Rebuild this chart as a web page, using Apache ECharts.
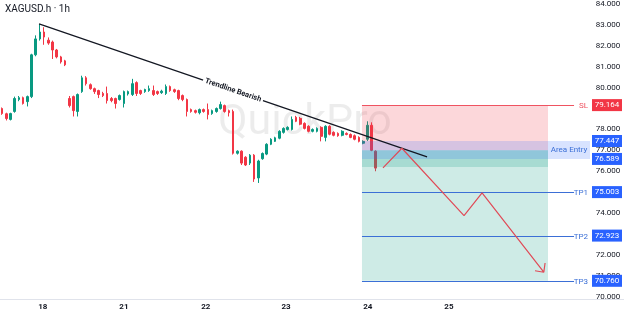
<!DOCTYPE html>
<html>
<head>
<meta charset="utf-8">
<script src="https://cdn.jsdelivr.net/npm/echarts@6/dist/echarts.min.js"></script>
<style>
  html, body { margin: 0; padding: 0; background: #fff; }
  #chart { width: 624px; height: 316px; }
</style>
</head>
<body>
<div id="chart"></div>
<script>
// day labels on the time axis (position = candle index)
const days = ['18', '21', '22', '23', '24', '25'];
const dayPos = [9.7, 29.0, 48.5, 67.6, 87.1, 106.4];

// hourly candles
const opens = [
  79.00, 78.75, 78.48, 78.86, 79.43, 79.52, 79.33, 79.57, 81.57, 82.33,
  82.66, 82.27, 82.18, 81.80, 81.47, 81.28, 79.48, 79.57, 78.86, 79.81,
  80.47, 80.14, 79.95, 79.86, 79.72, 79.72, 79.48, 79.48, 79.43, 79.24,
  79.70, 79.67, 80.24, 79.86, 79.81, 79.86, 79.86, 79.81, 79.76, 79.72,
  80.05, 79.90, 79.86, 79.62, 79.43, 78.95, 78.90, 78.80, 78.95, 78.95,
  78.76, 78.86, 79.00, 79.14, 78.90, 78.86, 76.86, 76.96, 76.67, 76.39,
  76.77, 75.68, 76.60, 76.82, 77.29, 77.43, 77.58, 77.86, 78.00, 78.00,
  78.58, 78.53, 78.29, 78.15, 77.91, 77.91, 78.10, 77.62, 78.15, 77.86,
  77.81, 77.72, 77.81, 77.76, 77.70, 77.62, 77.34, 77.53, 78.20, 76.96
];
const closes = [
  78.76, 78.52, 78.76, 79.48, 79.52, 79.24, 79.57, 81.57, 82.33, 82.66,
  82.42, 82.13, 81.80, 81.47, 81.23, 81.09, 79.14, 78.90, 79.67, 80.47,
  80.19, 79.95, 79.81, 79.67, 79.62, 79.38, 79.38, 79.24, 79.62, 79.81,
  79.81, 80.19, 79.72, 79.72, 79.91, 79.95, 79.67, 79.72, 79.83, 80.05,
  79.86, 79.81, 79.48, 79.43, 78.86, 78.86, 78.82, 78.95, 78.86, 78.71,
  78.90, 79.00, 79.19, 78.86, 78.80, 76.86, 76.96, 76.39, 76.30, 76.77,
  75.63, 76.49, 76.85, 77.29, 77.53, 77.60, 77.91, 78.05, 78.10, 78.48,
  78.39, 78.25, 78.05, 77.91, 78.00, 78.05, 77.67, 78.15, 77.77, 77.72,
  77.70, 77.91, 77.76, 77.62, 77.53, 77.43, 77.43, 78.20, 77.00, 76.15
];
const lows = [
  78.70, 78.43, 78.43, 78.80, 79.35, 79.19, 79.10, 79.50, 81.50, 82.25,
  82.05, 82.05, 81.37, 81.40, 81.15, 81.03, 79.05, 78.62, 78.62, 79.75,
  80.10, 79.90, 79.70, 79.50, 79.55, 79.24, 79.30, 79.00, 79.38, 79.05,
  79.62, 79.60, 79.60, 79.65, 79.75, 79.80, 79.60, 79.65, 79.70, 79.65,
  79.80, 79.75, 79.40, 79.35, 78.62, 78.80, 78.76, 78.72, 78.80, 78.48,
  78.70, 78.80, 78.95, 78.80, 78.62, 76.80, 76.80, 76.30, 76.25, 76.30,
  75.49, 75.44, 76.55, 76.77, 77.25, 77.40, 77.53, 77.80, 77.95, 77.95,
  78.35, 78.20, 78.00, 77.86, 77.86, 77.86, 77.43, 77.43, 77.72, 77.67,
  77.65, 77.67, 77.72, 77.58, 77.48, 77.38, 77.29, 77.45, 76.96, 76.00
];
const highs = [
  79.05, 78.80, 78.80, 79.57, 79.60, 79.57, 79.62, 81.62, 82.50, 83.04,
  82.89, 82.40, 82.25, 81.85, 81.52, 81.33, 79.60, 79.62, 79.72, 80.57,
  80.55, 80.20, 80.00, 79.90, 79.80, 80.05, 79.55, 79.52, 79.67, 79.86,
  79.86, 80.42, 80.30, 79.90, 79.95, 80.10, 80.10, 79.86, 79.90, 80.15,
  80.10, 79.95, 79.90, 79.67, 79.48, 79.00, 78.95, 79.00, 79.00, 79.24,
  78.95, 79.05, 79.33, 79.19, 78.95, 78.95, 77.00, 77.00, 76.72, 76.82,
  76.82, 76.55, 76.90, 77.34, 77.58, 77.65, 77.96, 78.10, 78.15, 78.62,
  78.65, 78.60, 78.34, 78.20, 78.05, 78.10, 78.15, 78.20, 78.20, 77.91,
  77.86, 77.96, 77.86, 77.81, 77.76, 77.67, 77.48, 78.39, 78.34, 77.00
];

// price scale labels
const priceTicks = [70, 71, 72, 74, 76, 77, 78, 80, 81, 82, 83, 84];

// trendline (candle index, price)
const trendX = [8.8, 101.2];
const trendY = [83.05, 76.69];

// projected path with arrow head
const pathX = [90.7, 95.2, 110.0, 114.3, 129.0];
const pathY = [76.16, 77.10, 73.88, 74.97, 71.17];
const arrowX = [129.3, 129.0, 126.9];
const arrowY = [71.61, 71.17, 71.24];

// trade plan levels
const levelNames = ['SL', 'TP1', 'TP2', 'TP3'];
const levelValues = [79.164, 75.003, 72.923, 70.760];
const entryTop = 77.447;
const entryBottom = 76.589;
const entryPrice = 77.0;
const entryFill = 76.2;
const boxStart = 85.7;
const boxEnd = 130.0;
const lineEnd = 136.2;
const plotEnd = 140;

const UP = '#089981', DOWN = '#f23645', BLUE = '#2962ff', TXT = '#131722';
const zoneColors = ['rgba(242,54,69,0.2)', 'rgba(8,153,129,0.2)', 'rgba(41,98,255,0.18)'];
const levelColors = ['#ef5361', '#3b6fd6', '#3b6fd6', '#3b6fd6'];

const candles = opens.map((o, i) => [i, o, closes[i], lows[i], highs[i]]);

const zones = [
  [boxStart, boxEnd, levelValues[0], entryPrice, 0],
  [boxStart, boxEnd, entryPrice, levelValues[3], 1],
  [boxStart, boxEnd, entryPrice, entryFill, 1],
  [boxStart, plotEnd, entryTop, entryBottom, 2]
];

const tags = [
  [plotEnd, levelValues[0], DOWN],
  [plotEnd, entryTop, BLUE],
  [plotEnd, entryBottom, BLUE],
  [plotEnd, levelValues[1], BLUE],
  [plotEnd, levelValues[2], BLUE],
  [plotEnd, levelValues[3], BLUE]
];

const pathData = pathX.map((x, i) => [x, pathY[i]])
  .concat(arrowX.map((x, i) => [x, arrowY[i]]));

const chart = echarts.init(document.getElementById('chart'));

const option = {
  animation: false,
  textStyle: { fontFamily: 'Roboto' },
  grid: { left: 0, right: 34, top: 0, bottom: 17 },
  xAxis: {
    type: 'value',
    min: -0.5,
    max: plotEnd,
    axisLine: { lineStyle: { color: '#e0e3eb' } },
    axisTick: { show: false },
    splitLine: { show: false },
    axisLabel: {
      customValues: dayPos,
      margin: 4,
      fontSize: 8,
      fontWeight: 'bold',
      color: TXT,
      formatter: v => {
        const k = dayPos.findIndex(p => Math.abs(p - v) < 0.01);
        return k >= 0 ? days[k] : '';
      }
    }
  },
  yAxis: {
    type: 'value',
    position: 'right',
    min: 69.89,
    max: 84.08,
    axisLine: { show: false },
    axisTick: { show: false },
    splitLine: { show: false },
    axisLabel: {
      customValues: priceTicks,
      margin: 18,
      align: 'center',
      fontSize: 8,
      color: TXT,
      formatter: v => v.toFixed(3)
    }
  },
  graphic: [
    {
      id: 'title', type: 'text', left: 5, top: 4, z: 10,
      style: { text: 'XAGUSD.h · 1h', font: '10px Roboto', fill: TXT }
    },
    {
      id: 'watermark', type: 'text', left: 218, top: 102, z: 0,
      style: { text: 'QuickPro', font: '43px Roboto', fill: 'rgba(0,0,0,0.075)' }
    },
    {
      // bottom rule under the price scale too
      id: 'scaleRule', type: 'line', z: 0,
      shape: { x1: 590, y1: 299.5, x2: 624, y2: 299.5 },
      style: { stroke: '#e0e3eb', lineWidth: 1 }
    }
  ],
  series: [
    {
      type: 'candlestick',
      z: 2,
      barWidth: 2.2,
      encode: { x: 0, y: [1, 2, 3, 4] },
      data: candles,
      itemStyle: {
        color: UP, color0: DOWN,
        borderColor: UP, borderColor0: DOWN,
        borderWidth: 1
      }
    },
    {
      // position / entry zones
      type: 'custom',
      z: 3,
      encode: { x: [0, 1], y: [2, 3] },
      data: zones,
      renderItem: (params, api) => {
        const p1 = api.coord([api.value(0), api.value(2)]);
        const p2 = api.coord([api.value(1), api.value(3)]);
        const k = api.value(4);
        const children = [{
          type: 'rect',
          shape: { x: p1[0], y: p1[1], width: p2[0] - p1[0], height: p2[1] - p1[1] },
          style: { fill: zoneColors[k] }
        }];
        if (k === 2) {
          children.push({
            type: 'text',
            x: p2[0] - 21, y: (p1[1] + p2[1]) / 2,
            style: { text: 'Area Entry', font: '8px Roboto', fill: '#3b6fd6', align: 'center', verticalAlign: 'middle' }
          });
        }
        return { type: 'group', children };
      }
    },
    {
      // SL / TP lines
      type: 'custom',
      z: 4,
      encode: { x: [0, 1], y: 2 },
      data: levelValues.map((v, i) => [boxStart, lineEnd, v, i]),
      renderItem: (params, api) => {
        const k = api.value(3);
        const y = Math.round(api.coord([0, api.value(2)])[1]) + 0.5;
        const x1 = api.coord([api.value(0), 0])[0];
        const x2 = api.coord([api.value(1), 0])[0];
        const right = params.coordSys.x + params.coordSys.width;
        return {
          type: 'group',
          children: [
            { type: 'line', shape: { x1, y1: y, x2, y2: y }, style: { stroke: levelColors[k], lineWidth: 1 } },
            {
              type: 'text', x: right - 2, y,
              style: { text: levelNames[k], font: '8px Roboto', fill: levelColors[k], align: 'right', verticalAlign: 'middle' }
            }
          ]
        };
      }
    },
    {
      type: 'line',
      z: 5,
      symbol: 'none',
      data: trendX.map((x, i) => [x, trendY[i]]),
      lineStyle: { color: TXT, width: 1.2 }
    },
    {
      type: 'line',
      z: 5,
      symbol: 'none',
      data: pathData,
      lineStyle: { color: '#e04a57', width: 1.2 }
    },
    {
      // price tags on the scale
      type: 'custom',
      z: 10,
      encode: { x: 0, y: 1 },
      data: tags,
      renderItem: (params, api) => {
        const y = api.coord([0, api.value(1)])[1];
        const left = params.coordSys.x + params.coordSys.width + 2;
        const color = tags[params.dataIndex][2];
        return {
          type: 'group',
          children: [
            { type: 'rect', shape: { x: left, y: y - 6, width: 30, height: 12 }, style: { fill: color } },
            {
              type: 'text', x: left + 15, y,
              style: { text: api.value(1).toFixed(3), font: '8px Roboto', fill: '#fff', align: 'center', verticalAlign: 'middle' }
            }
          ]
        };
      }
    }
  ]
};

chart.setOption(option);

// label along the trendline
const a = chart.convertToPixel({ gridIndex: 0 }, [trendX[0], trendY[0]]);
const b = chart.convertToPixel({ gridIndex: 0 }, [trendX[1], trendY[1]]);
const angle = Math.atan2(b[1] - a[1], b[0] - a[0]);
chart.setOption({
  graphic: [{
    id: 'trendLabel', type: 'text',
    x: (a[0] + b[0]) / 2, y: (a[1] + b[1]) / 2,
    rotation: -angle, z: 100,
    style: {
      text: 'Trendline Bearish', font: 'bold 7.5px Roboto', fill: TXT,
      align: 'center', verticalAlign: 'middle',
      backgroundColor: '#fff', padding: [1, 2]
    }
  }]
});
</script>
</body>
</html>
